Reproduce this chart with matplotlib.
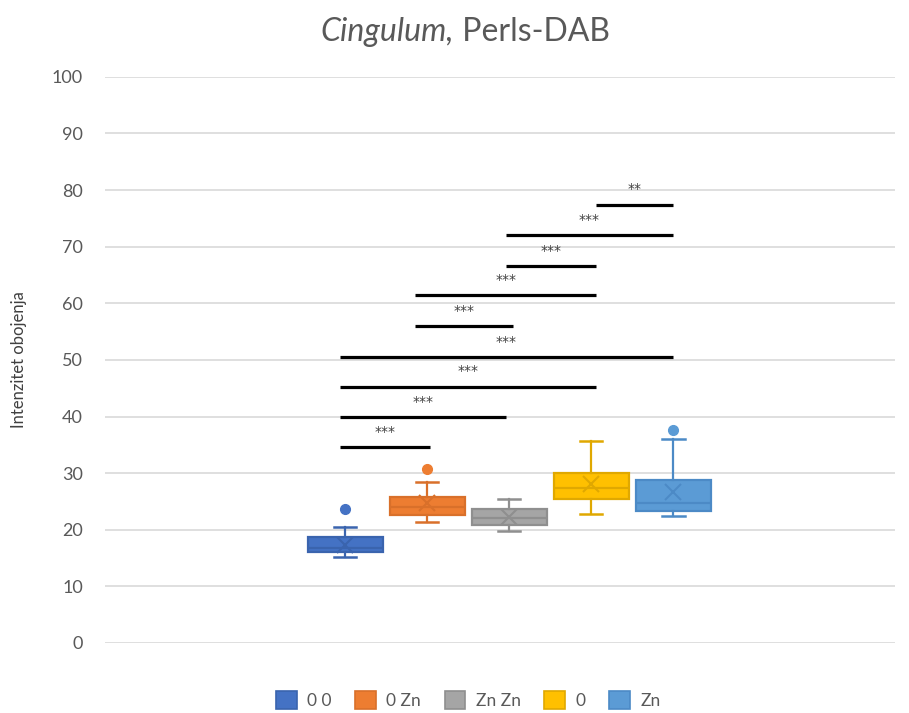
import matplotlib
matplotlib.use("Agg")
import matplotlib.pyplot as plt
from matplotlib.patches import Patch

plt.rcParams['font.family'] = ['Lato', 'DejaVu Sans']

# --- DATA ---
groups = ["0 0", "0 Zn", "Zn Zn", "0", "Zn"]
q1 = [16.0, 22.6, 20.8, 25.4, 23.4]
med = [16.7, 24.1, 22.0, 27.45, 24.7]
q3 = [18.7, 25.7, 23.6, 30.0, 28.8]
whislo = [15.25, 21.3, 19.7, 22.85, 22.4]
whishi = [20.4, 28.4, 25.4, 35.6, 36.0]
means = [17.3, 24.7, 22.2, 28.0, 26.7]
fliers = [[23.6], [30.7], [], [], [37.6]]

fill_colors = ["#4472C4", "#ED7D31", "#A5A5A5", "#FFC000", "#5B9BD5"]
line_colors = ["#3A64AE", "#D9702A", "#8F8F8F", "#E0A800", "#4C8AC6"]

# significance brackets: (left, right) in box-index units, height, label
brackets = [
    (0.93, 2.03, 34.6, "***"),
    (0.93, 2.955, 39.9, "***"),
    (0.93, 4.06, 45.3, "***"),
    (0.93, 4.99, 50.5, "***"),
    (1.85, 3.05, 55.95, "***"),
    (1.85, 4.06, 61.4, "***"),
    (2.955, 4.06, 66.55, "***"),
    (2.955, 4.99, 72.0, "***"),
    (4.06, 4.99, 77.4, "**"),
]

fig = plt.figure(figsize=(9.09, 7.13), dpi=100)
ax = fig.add_axes([0.1155, 0.0982, 0.869, 0.794])

positions = list(range(1, len(groups) + 1))
for i, pos in enumerate(positions):
    stats = [dict(med=med[i], q1=q1[i], q3=q3[i], whislo=whislo[i],
                  whishi=whishi[i], mean=means[i], fliers=fliers[i])]
    lc = line_colors[i]
    ax.bxp(stats, positions=[pos], widths=0.915, patch_artist=True,
           showmeans=True, manage_ticks=False,
           boxprops=dict(facecolor=fill_colors[i], edgecolor=lc, linewidth=1.6),
           medianprops=dict(color=lc, linewidth=1.6),
           whiskerprops=dict(color=lc, linewidth=1.6),
           capprops=dict(color=lc, linewidth=1.8),
           capwidths=0.27,
           meanprops=dict(marker='x', markeredgecolor=lc, markersize=12,
                          markeredgewidth=1.5),
           flierprops=dict(marker='o', markerfacecolor=fill_colors[i],
                           markeredgecolor=fill_colors[i], markersize=7))

for x0, x1, y, lab in brackets:
    ax.plot([x0, x1], [y, y], color='black', lw=2.3, solid_capstyle='butt')
    ax.text((x0 + x1) / 2, y + 1.5, lab, ha='center', va='bottom',
            fontsize=10, color='#404040', family='DejaVu Sans')

ax.set_xlim(-1.93, 7.70)
ax.set_ylim(0, 100)
ax.set_yticks(range(0, 101, 10))
ax.set_xticks([])
ax.tick_params(axis='y', length=0, labelsize=13, labelcolor='#595959', pad=16)
ax.grid(axis='y', color='#D9D9D9', lw=1.2)
ax.set_axisbelow(True)
for s in ax.spines.values():
    s.set_visible(False)
ax.set_ylabel("Intenzitet obojenja", fontsize=12, color='#404040', labelpad=18)

# title: italic part + regular part, centred together
t1 = fig.text(0, 0.955, "Cingulum,", fontsize=23, fontstyle='italic',
              color='#595959', va='center')
t2 = fig.text(0, 0.955, " Perls-DAB", fontsize=23, color='#595959', va='center')
fig.canvas.draw()
r = fig.canvas.get_renderer()
w1 = t1.get_window_extent(r).width
w2 = t2.get_window_extent(r).width
x_start = 465 - (w1 + w2) / 2
t1.set_x(x_start / 909)
t2.set_x((x_start + w1) / 909)

handles = [Patch(facecolor=fill_colors[i], edgecolor=line_colors[i], lw=1.2,
                 label=groups[i]) for i in range(len(groups))]
fig.legend(handles=handles, loc='center', bbox_to_anchor=(0.515, 0.018), ncol=5,
           frameon=False, fontsize=12.5, handlelength=1.2, handleheight=1.2,
           columnspacing=1.35, handletextpad=0.6, labelcolor='#595959')

fig.savefig("out.png", dpi=100)
